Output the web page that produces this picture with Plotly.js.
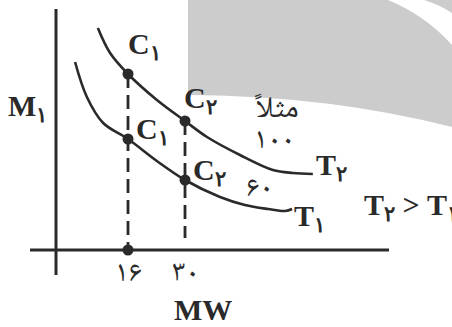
<!DOCTYPE html>
<html>
<head>
<meta charset="utf-8">
<script src="https://cdn.plot.ly/plotly-3.0.1.min.js"></script>
<style>
  html, body { margin: 0; padding: 0; background: #fff; }
  #chart { width: 452px; height: 327px; }
</style>
</head>
<body>
<div id="chart"></div>
<script>
// Molecular weight positions marked on the horizontal axis
const mwTicks = [16, 30];
const mwTickText = ['۱۶', '۳۰'];

// Isotherm T2 (upper curve): MW vs M1
const t2MW = [8.6, 11.6, 16, 23.1, 30, 35.4, 43.5, 51.6, 56.5, 61.4];
const t2M1 = [88.8, 78.8, 70.4, 60.0, 51.6, 45.2, 38.0, 32.0, 30.8, 30.4];

// Isotherm T1 (lower curve)
const t1MW = [3.0, 5.9, 9.9, 16, 23.1, 30, 38.6, 44.7, 50.4, 54.6, 56.3];
const t1M1 = [75.2, 61.2, 50.8, 44.4, 35.6, 28.0, 21.2, 18.0, 16.4, 15.6, 16.4];

// Marked points C1 / C2 on each isotherm
const pointMW = [16, 30, 16, 30];
const pointM1 = [70.4, 51.6, 44.4, 28.0];
const pointSub = ['۱', '۲', '۱', '۲'];

// Temperature labels
const curveNames = ['T<sub>۲</sub>', 'T<sub>۱</sub>'];
const tempValues = ['۱۰۰', '۶۰'];

const W = 452, H = 327;
const ink = '#2a2a2a';
const serif = "'Liberation Serif', 'Times New Roman', 'DejaVu Serif', serif";
const persian = "'Noto Naskh Arabic', 'DejaVu Sans', sans-serif";

// pixel helpers for decoration / label placement (paper coordinates)
const px = v => v / W;
const py = v => 1 - v / H;

// axis scale: 16 -> 128px, 30 -> 185px
const kx = (185 - 128) / (30 - 16);
const x0 = 16 - 128 / kx;
const ky = 2.5;
const yTop = 250 / ky;

const traces = [
  {x: t2MW, y: t2M1, mode: 'lines', line: {color: ink, width: 2.6, shape: 'spline', smoothing: 1}, hoverinfo: 'skip'},
  {x: t1MW, y: t1M1, mode: 'lines', line: {color: ink, width: 2.6, shape: 'spline', smoothing: 1}, hoverinfo: 'skip'},
  // dashed drop lines from the points at MW = 16 and MW = 30
  {x: [mwTicks[0], mwTicks[0]], y: [pointM1[0], 0], mode: 'lines', line: {color: ink, width: 2.8, dash: '14px,7px'}, hoverinfo: 'skip'},
  {x: [mwTicks[1], mwTicks[1]], y: [pointM1[1], 4.8], mode: 'lines', line: {color: ink, width: 2.8, dash: '14px,7px'}, hoverinfo: 'skip'},
  {x: pointMW.concat([mwTicks[0]]), y: pointM1.concat([0]), mode: 'markers',
   marker: {color: ink, size: 11}, hoverinfo: 'skip'}
];

const shapes = [
  // grey backdrop banner
  {type: 'path', xref: 'paper', yref: 'paper', layer: 'below', line: {width: 0}, fillcolor: '#cccccc',
   path: `M ${px(188)},${py(0)} L ${px(388)},${py(0)} Q ${px(425)},${py(15)} ${px(452)},${py(45)} L ${px(452)},${py(127)} Q ${px(330)},${py(96)} ${px(192)},${py(95)} Q ${px(188)},${py(95)} ${px(188)},${py(91)} Z`},
  {type: 'path', xref: 'paper', yref: 'paper', layer: 'below', line: {width: 0}, fillcolor: '#cccccc',
   path: `M ${px(424)},${py(0)} L ${px(452)},${py(0)} L ${px(452)},${py(13)} Q ${px(440)},${py(5)} ${px(424)},${py(0)} Z`},
  // axes
  {type: 'line', xref: 'x', yref: 'y', x0: x0 + 56 / kx, x1: x0 + 56 / kx, y0: (250 - 9) / ky, y1: (250 - 275) / ky, line: {color: ink, width: 3}},
  {type: 'line', xref: 'x', yref: 'y', x0: x0 + 30 / kx, x1: x0 + 389 / kx, y0: 0, y1: 0, line: {color: ink, width: 3}}
];

const big = {family: serif, size: 30, color: ink, weight: 'bold'};
const fa = {family: persian, size: 30, color: ink};

const ann = [];
function label(text, x, y, font, xanchor, xref, yref) {
  ann.push({text, x, y, xref: xref || 'paper', yref: yref || 'paper', xanchor: xanchor || 'left', yanchor: 'middle',
            showarrow: false, font, borderpad: 0});
}
// C labels next to the points
const cPos = [[127, 46], [183, 100], [135, 131], [192, 172]];
pointSub.forEach((s, i) => label('C<sub>' + s + '</sub>', px(cPos[i][0]), py(cPos[i][1]), big));
// curve names and the temperature relation
label(curveNames[0], px(315), py(167), big);
label(curveNames[1], px(293), py(218), big);
label('T<sub>۲</sub> > T<sub>۱</sub>', px(363), py(207), big);
// axis titles
label('M<sub>۱</sub>', px(7), py(108), big);
label('MW', px(203), py(309), big, 'center');
// axis tick values
mwTicks.forEach((v, i) => label(mwTickText[i], v, py(274), fa, 'center', 'x', 'paper'));
// temperatures
label('مثلاً', px(277), py(110), fa, 'center');
label(tempValues[0], px(274), py(141), fa, 'center');
label(tempValues[1], px(259), py(189), fa, 'center');

const layout = {
  width: W, height: H,
  margin: {l: 0, r: 0, t: 0, b: 0},
  paper_bgcolor: '#ffffff', plot_bgcolor: 'rgba(0,0,0,0)',
  showlegend: false,
  xaxis: {range: [x0, x0 + W / kx], visible: false, fixedrange: true},
  yaxis: {range: [yTop - H / ky, yTop], visible: false, fixedrange: true},
  shapes, annotations: ann
};

Plotly.newPlot('chart', traces, layout, {staticPlot: true, displayModeBar: false});
</script>
</body>
</html>
